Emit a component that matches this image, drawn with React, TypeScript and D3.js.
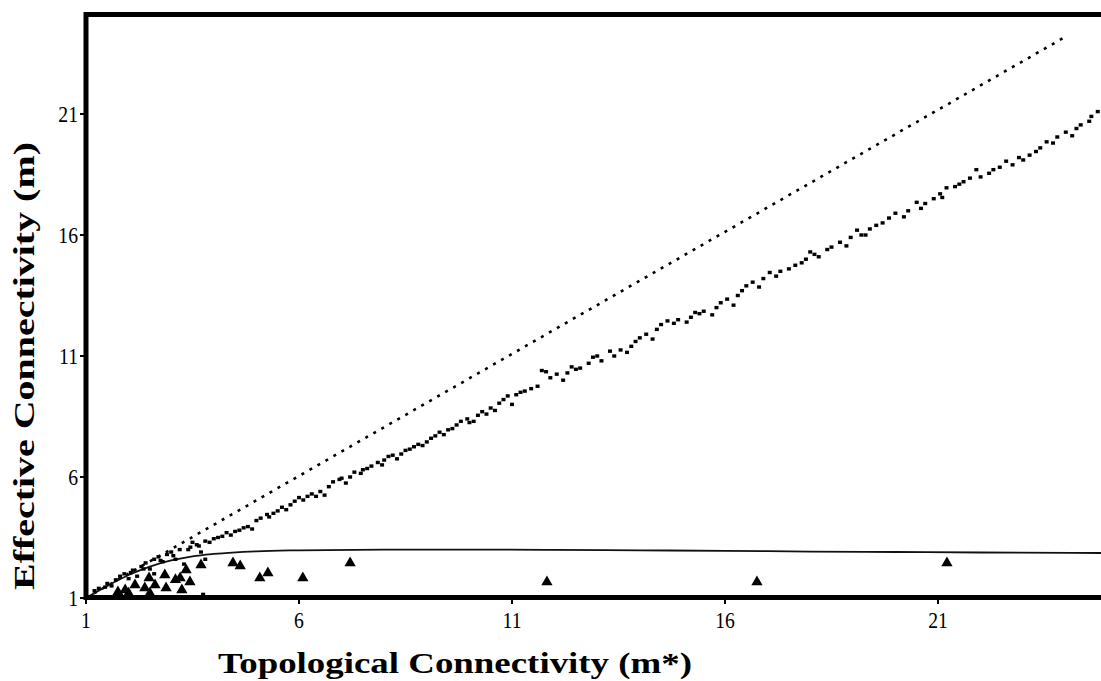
import React from 'react';
import * as d3 from 'd3';

// tick values on both axes
const xTicks = [1, 6, 11, 16, 21];
const yTicks = [1, 6, 11, 16, 21];

// m = m* reference line (dotted)
const identityLine: [number, number][] = [[1, 1], [24, 24.2]];

// saturating model curve
const curveX = [1, 1.5, 2, 2.5, 3, 3.5, 4, 5, 6, 8, 10, 12, 14, 16, 18, 20, 22, 24.9];
const curveY = [1, 1.5, 1.95, 2.3, 2.55, 2.72, 2.82, 2.93, 2.97, 3.0, 3.0, 2.99, 2.97, 2.95, 2.92, 2.9, 2.88, 2.86];

// simulated points (small squares)
const simPoints: [number, number][] = [
  [1.3, 1.4], [1.5, 1.6], [1.6, 1.5], [1.8, 1.9], [1.9, 2.0], [2.0, 1.8], [2.1, 2.15], [2.2, 1.9],
  [2.3, 2.3], [2.4, 2.45], [2.5, 2.2], [2.6, 2.6], [2.6, 2.0], [2.7, 2.7], [2.8, 2.5], [2.9, 2.8],
  [3.0, 2.9], [3.1, 2.6], [3.2, 3.0], [3.3, 2.4], [3.4, 3.0], [3.5, 3.3], [3.6, 3.2], [3.7, 2.9],
  [3.75, 1.15], [3.8, 3.35], [3.8, 2.6], [3.9, 3.3], [4.1, 3.5], [4.3, 3.7], [4.4, 3.6], [4.6, 3.8],
  [4.8, 3.95], [4.9, 3.85],
  [5.1, 4.3], [5.25, 4.45], [5.4, 4.5], [5.6, 4.75], [5.7, 4.65], [5.9, 5.0], [6.0, 5.15], [6.1, 5.05],
  [6.3, 5.3], [6.5, 5.4], [6.6, 5.25], [6.8, 5.8], [6.95, 5.9], [7.1, 5.75], [7.3, 6.2], [7.45, 6.15],
  [7.6, 6.35], [7.85, 6.6], [7.95, 6.5],
  [8.1, 6.85], [8.3, 6.75], [8.5, 7.1], [8.7, 7.25], [8.9, 7.3], [9.1, 7.6], [9.3, 7.85], [9.4, 7.75],
  [9.6, 8.0], [9.8, 8.3], [9.95, 8.4], [10.1, 8.3], [10.3, 8.7], [10.5, 8.85], [10.6, 8.75], [10.8, 9.2],
  [10.9, 9.35], [11.0, 9.0],
  [11.3, 9.55], [11.45, 9.65], [11.7, 10.4], [11.9, 10.1], [12.05, 10.25], [12.2, 10.0], [12.4, 10.55],
  [12.6, 10.5], [12.9, 10.95], [13.1, 10.8], [13.3, 11.2], [13.55, 11.25], [13.7, 11.15], [13.9, 11.6],
  [14.15, 11.9], [14.3, 11.7], [14.5, 12.3], [14.65, 12.45], [14.9, 12.5],
  [15.1, 12.4], [15.3, 12.8], [15.5, 12.85], [15.7, 12.7], [15.9, 13.2], [16.05, 13.35], [16.2, 13.1],
  [16.5, 13.9], [16.65, 14.05], [16.8, 13.85], [17.05, 14.45], [17.2, 14.3], [17.5, 14.6], [17.65, 14.75],
  [17.9, 15.0], [18.0, 15.3], [18.2, 15.1], [18.4, 15.4], [18.7, 15.7], [18.85, 15.55],
  [19.1, 16.2], [19.3, 16.0], [19.55, 16.4], [19.7, 16.5], [20.0, 16.9], [20.2, 16.75], [20.5, 17.35],
  [20.6, 17.1], [20.9, 17.5], [21.05, 17.7], [21.2, 17.95], [21.4, 18.0], [21.6, 18.2], [21.9, 18.7],
  [22.0, 18.4], [22.2, 18.55], [22.45, 18.8], [22.6, 19.05], [22.75, 18.9], [22.9, 19.2], [23.3, 19.45],
  [23.55, 19.85], [23.8, 20.05], [24.0, 20.25], [24.15, 20.1], [24.35, 20.55], [24.55, 20.7], [24.75, 21.1],
  // second pass, denser parts of the band
  [1.2, 1.3], [1.45, 1.45], [1.7, 1.75], [2.05, 2.05], [2.35, 2.2], [2.75, 2.55], [3.05, 2.75],
  [3.45, 3.1], [3.65, 3.15], [4.0, 3.45], [4.2, 3.55], [4.5, 3.75], [4.7, 3.9], [5.0, 4.2], [5.3, 4.35],
  [5.5, 4.6], [5.8, 4.85], [6.2, 5.2], [6.4, 5.2], [6.7, 5.6], [7.0, 5.95], [7.2, 6.0], [7.5, 6.3],
  [7.7, 6.45], [8.0, 6.7], [8.2, 6.9], [8.4, 6.95], [8.6, 7.15], [8.8, 7.35], [9.0, 7.45], [9.2, 7.7],
  [9.5, 7.95], [9.7, 8.15], [10.0, 8.25], [10.2, 8.55], [10.4, 8.6], [10.7, 9.05], [11.1, 9.4],
  [11.2, 9.5], [11.6, 9.75], [11.8, 10.35], [12.3, 10.3], [12.5, 10.45], [12.8, 10.7], [13.0, 11.0],
  [13.4, 11.0], [13.8, 11.4], [14.0, 11.75], [14.4, 12.1], [14.8, 12.35], [15.2, 12.6], [15.4, 12.75],
  [15.8, 13.0], [16.3, 13.5], [16.4, 13.7], [16.9, 14.2], [17.3, 14.5], [17.8, 14.85], [18.1, 15.2],
  [18.5, 15.5], [18.95, 15.9], [19.2, 16.0], [19.4, 16.25], [19.85, 16.7], [20.3, 17.0], [20.7, 17.3],
  [21.1, 17.55], [21.5, 18.1], [21.75, 18.35], [22.3, 18.7], [23.0, 19.1], [23.15, 19.3], [23.4, 19.6],
  [23.7, 19.8], [24.25, 20.4], [24.6, 20.9], [24.9, 21.0],
];

// observed networks (triangles)
const obsPoints: [number, number][] = [
  [1.75, 1.25], [1.92, 1.33], [2.0, 1.2], [2.15, 1.54], [2.38, 1.41], [2.5, 1.2], [2.62, 1.54],
  [2.48, 1.83], [2.85, 1.95], [2.88, 1.41], [3.1, 1.75], [3.21, 1.83], [3.35, 2.16], [3.44, 1.66],
  [3.25, 1.33], [3.7, 2.36], [4.45, 2.45], [4.62, 2.32], [5.08, 1.83], [5.27, 2.03], [6.09, 1.83],
  [7.2, 2.45], [11.82, 1.66], [16.75, 1.66], [21.21, 2.45],
];

const W = 1101;
const H = 681;

const App = () => {
  const x = d3.scaleLinear().domain([1, 21]).range([86, 938]);
  const y = d3.scaleLinear().domain([1, 21]).range([598, 114]);

  const line = d3.line<[number, number]>().x(d => x(d[0])).y(d => y(d[1]));
  const curve = curveX.map((v, i) => [v, curveY[i]] as [number, number]);
  const tri = d3.symbol(d3.symbolTriangle, 55)();

  const serif = '"Liberation Serif", "Times New Roman", serif';

  return (
    <svg width={W} height={H} style={{ position: 'absolute', left: 0, top: 0, background: '#fff' }}>
      {/* reference line */}
      <path d={line(identityLine) || ''} fill="none" stroke="#000" strokeWidth={2.6}
        strokeDasharray="3 6.2" />
      {/* model curve */}
      <path d={line.curve(d3.curveMonotoneX)(curve) || ''}
        fill="none" stroke="#111" strokeWidth={1.8} />
      {/* simulated */}
      {simPoints.map((d, i) => (
        <rect key={'s' + i} x={x(d[0]) - 2} y={y(d[1]) - 1.7} width={4} height={3.4} fill="#000" />
      ))}
      {/* observed */}
      {obsPoints.map((d, i) => (
        <path key={'o' + i} d={tri || ''} transform={`translate(${x(d[0])},${y(d[1])})`} fill="#000" />
      ))}

      {/* frame */}
      <rect x={86} y={14.5} width={W + 10} height={583} fill="none" stroke="#000" strokeWidth={5} />

      {/* ticks and labels */}
      {xTicks.map(t => (
        <g key={'x' + t}>
          <line x1={x(t)} x2={x(t)} y1={598} y2={604} stroke="#000" strokeWidth={2} />
          <text transform={`translate(${x(t)},628) scale(0.82,1)`} textAnchor="middle"
            fontFamily={serif} fontSize={24}>{t}</text>
        </g>
      ))}
      {yTicks.map(t => (
        <g key={'y' + t}>
          <line x1={80} x2={86} y1={y(t)} y2={y(t)} stroke="#000" strokeWidth={2} />
          <text transform={`translate(78,${y(t) + 8}) scale(0.82,1)`} textAnchor="end"
            fontFamily={serif} fontSize={24}>{t}</text>
        </g>
      ))}

      {/* axis titles */}
      <text x={455} y={673} textAnchor="middle" fontFamily={serif} fontWeight="bold" fontSize={29}
        textLength={474} lengthAdjust="spacingAndGlyphs">Topological Connectivity (m*)</text>
      <text transform="translate(34,366) rotate(-90)" textAnchor="middle" fontFamily={serif}
        fontWeight="bold" fontSize={29} textLength={448} lengthAdjust="spacingAndGlyphs">
        Effective Connectivity (m)
      </text>
    </svg>
  );
};

export default App;
